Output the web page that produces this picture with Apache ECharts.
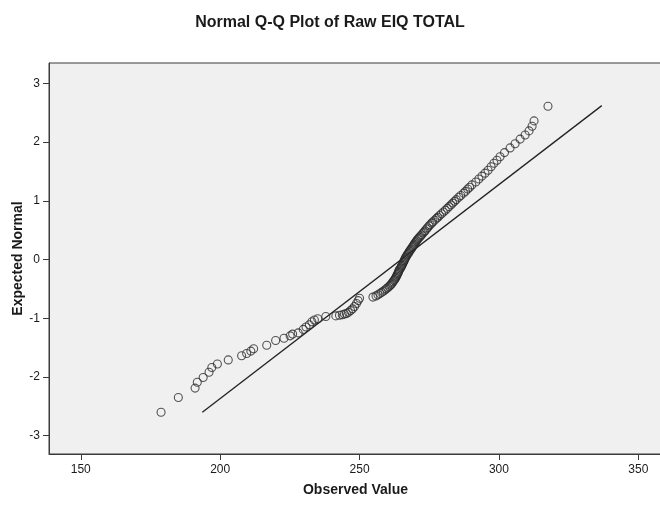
<!DOCTYPE html>
<html>
<head>
<meta charset="utf-8">
<script src="https://cdn.jsdelivr.net/npm/echarts@6/dist/echarts.min.js"></script>
<style>
  html, body { margin: 0; padding: 0; background: #ffffff; }
  #chart { width: 660px; height: 506px; }
</style>
</head>
<body>
<div id="chart"></div>
<script>
// Raw EIQ TOTAL scores, sorted, with their expected normal quantiles
const observed = [
  178.8, 185.0, 191.0, 191.8, 193.9, 196.0, 197.0, 199.0, 202.9, 207.7,
  209.5, 211.0, 212.0, 216.7, 219.9, 222.9, 225.1, 226.0, 228.0, 229.8,
  230.8, 232.0, 232.9, 233.8, 235.0, 237.9, 241.5, 242.8, 243.8, 244.6,
  245.3, 246.0, 246.8, 247.5, 248.2, 248.9, 249.5, 250.0,
  254.8, 255.9, 256.6, 257.3, 257.9, 258.5, 259.1, 259.6, 260.1, 260.6,
  261.0, 261.4, 261.7, 262.0, 262.3, 262.6, 262.9, 263.1, 263.3, 263.5,
  263.7, 263.9, 264.1, 264.2, 264.5, 264.8, 265.0, 265.2, 265.4, 265.6,
  265.8, 266.0, 266.2,
  266.4, 266.6, 266.9, 267.1, 267.4, 267.7, 267.9, 268.2, 268.5, 268.8,
  269.1, 269.4, 269.6, 269.9, 270.2, 270.5, 270.8, 271.1, 271.5, 271.9,
  272.3, 272.8, 273.2, 273.5, 274.0, 274.4, 274.9, 275.3, 275.9, 276.3,
  277.0, 277.6, 278.1, 278.7, 279.4, 280.1, 280.8, 281.5, 282.1, 282.8,
  283.4, 284.1, 284.7, 285.6, 286.3, 287.3, 288.0, 288.8, 289.5, 290.3,
  291.7, 292.8, 293.9, 295.0, 296.1, 297.2, 298.2, 299.3, 300.4, 302.0,
  304.0, 305.8, 307.6, 309.4, 310.8, 311.9, 312.6, 317.6
];
const expected = [
  -2.60, -2.35, -2.19, -2.09, -2.01, -1.92, -1.84, -1.78, -1.71, -1.64,
  -1.60, -1.56, -1.52, -1.46, -1.38, -1.34, -1.30, -1.27, -1.25, -1.19,
  -1.15, -1.11, -1.06, -1.03, -1.01, -0.97, -0.96, -0.95, -0.94, -0.93,
  -0.92, -0.90, -0.87, -0.84, -0.80, -0.75, -0.70, -0.66,
  -0.64, -0.62, -0.60, -0.58, -0.56, -0.54, -0.52, -0.50, -0.48, -0.46,
  -0.44, -0.42, -0.40, -0.38, -0.36, -0.34, -0.32, -0.30, -0.28, -0.26,
  -0.24, -0.22, -0.20, -0.18, -0.16, -0.14, -0.12, -0.10, -0.08, -0.06,
  -0.04, -0.02, 0.00,
  0.02, 0.04, 0.06, 0.08, 0.10, 0.12, 0.14, 0.16, 0.18, 0.20,
  0.22, 0.24, 0.26, 0.28, 0.30, 0.32, 0.34, 0.36, 0.38, 0.40,
  0.42, 0.45, 0.47, 0.49, 0.52, 0.54, 0.57, 0.59, 0.62, 0.64,
  0.67, 0.70, 0.72, 0.75, 0.78, 0.81, 0.84, 0.87, 0.90, 0.93,
  0.96, 0.99, 1.02, 1.06, 1.09, 1.13, 1.16, 1.20, 1.23, 1.27,
  1.32, 1.37, 1.42, 1.47, 1.52, 1.58, 1.64, 1.69, 1.75, 1.82,
  1.90, 1.97, 2.05, 2.12, 2.19, 2.27, 2.36, 2.61
];

// Normal reference line end points (observed value, expected normal)
const refLineObserved = [193.6, 336.9];
const refLineExpected = [-2.60, 2.62];

const xTicks = [150, 200, 250, 300, 350];
const yTicks = [-3, -2, -1, 0, 1, 2, 3];

const FONT = "'Liberation Sans', Arial, sans-serif";
const INK = '#1a1a1a';

const points = observed.map((v, i) => [v, expected[i]]);
const refLine = refLineObserved.map((v, i) => [v, refLineExpected[i]]);

const chart = echarts.init(document.getElementById('chart'), null, { renderer: 'canvas' });

chart.setOption({
  animation: false,
  backgroundColor: '#ffffff',
  title: {
    text: 'Normal Q-Q Plot of Raw EIQ TOTAL',
    left: 'center',
    top: 10,
    textStyle: { fontFamily: FONT, fontSize: 16, fontWeight: 'bold', color: INK }
  },
  grid: {
    left: 49, right: -2, top: 63, bottom: 52,
    outerBoundsMode: 'none',
    containLabel: false,
    show: true,
    backgroundColor: '#f0f0f0',
    borderColor: '#3a3a3a',
    borderWidth: 1
  },
  xAxis: {
    type: 'value',
    min: 138.6,
    max: 358.5,
    name: 'Observed Value',
    nameLocation: 'middle',
    nameGap: 29,
    nameMoveOverlap: false,
    nameTextStyle: { fontFamily: FONT, fontSize: 14, fontWeight: 'bold', color: INK },
    axisLine: { show: true, onZero: false, lineStyle: { color: '#3a3a3a', width: 1 } },
    axisTick: { show: true, length: 6, customValues: xTicks, lineStyle: { color: '#3a3a3a', width: 1 } },
    axisLabel: { customValues: xTicks, margin: 10, fontFamily: FONT, fontSize: 12, color: INK },
    splitLine: { show: false }
  },
  yAxis: {
    type: 'value',
    min: -3.312,
    max: 3.346,
    name: 'Expected Normal',
    nameLocation: 'middle',
    nameGap: 24,
    nameMoveOverlap: false,
    nameTextStyle: { fontFamily: FONT, fontSize: 14, fontWeight: 'bold', color: INK },
    axisLine: { show: true, onZero: false, lineStyle: { color: '#3a3a3a', width: 1 } },
    axisTick: { show: true, length: 6, customValues: yTicks, lineStyle: { color: '#3a3a3a', width: 1 } },
    axisLabel: { customValues: yTicks, margin: 9, fontFamily: FONT, fontSize: 12, color: INK },
    splitLine: { show: false }
  },
  series: [
    {
      type: 'line',
      data: refLine,
      showSymbol: false,
      silent: true,
      z: 2,
      lineStyle: { color: '#222222', width: 1.3 }
    },
    {
      type: 'scatter',
      data: points,
      symbol: 'circle',
      symbolSize: 8,
      silent: true,
      z: 3,
      itemStyle: { color: 'rgba(0,0,0,0)', borderColor: '#2a2a2a', borderWidth: 1.1 }
    }
  ]
});
</script>
</body>
</html>
